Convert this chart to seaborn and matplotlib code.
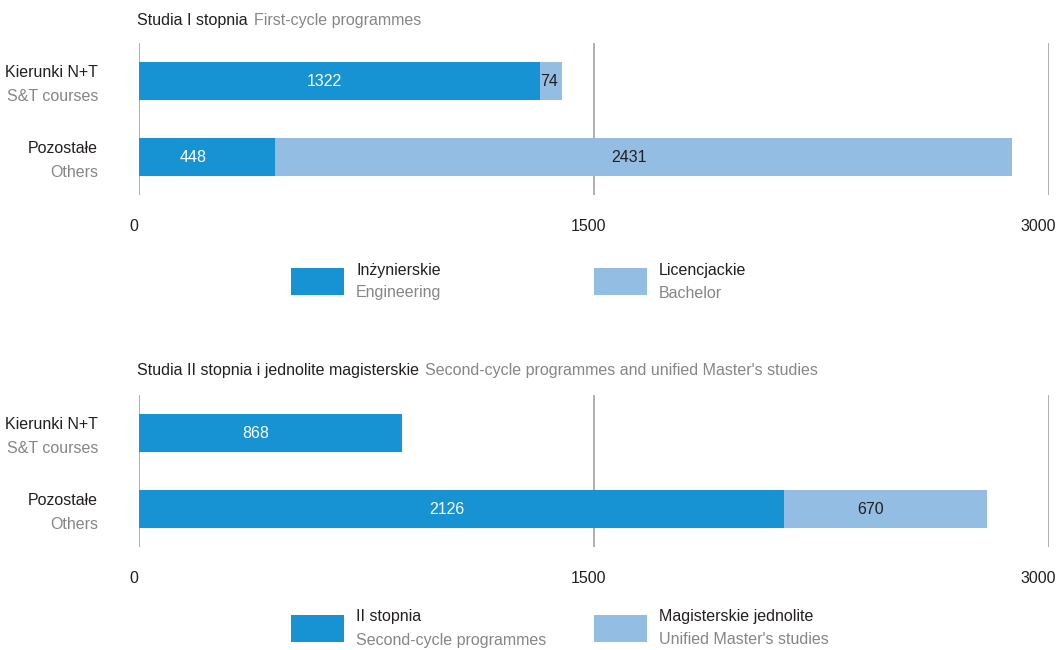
import matplotlib
matplotlib.use("Agg")
import matplotlib.pyplot as plt
import matplotlib.transforms as mtransforms
from matplotlib.patches import Rectangle
import seaborn as sns
import pandas as pd

# data
categories_pl = ["Kierunki N+T", "Pozostałe"]
categories_en = ["S&T courses", "Others"]

first_engineering = [1322, 448]
first_bachelor = [74, 2431]

second_cycle = [868, 2126]
unified_master = [0, 670]

x_ticks = [0, 1500, 3000]

DARK = "#1793d3"
LIGHT = "#93bde2"
TXT = "#231f20"
GREY = "#868686"
GRID = "#a8a8a8"

W, H = 1059, 650
FS = 11.5

sns.set_theme(style="white")
plt.rcParams["font.family"] = ["Liberation Sans", "DejaVu Sans"]
plt.rcParams["font.size"] = FS


def fx(px):
    return px / W


def fy(py):
    return 1 - py / H


def draw_panel(ax, first, second):
    df = pd.DataFrame({
        "cat": categories_pl,
        "first": first,
        "total": [a + b for a, b in zip(first, second)],
    })
    sns.barplot(data=df, x="total", y="cat", color=LIGHT, width=0.5,
                saturation=1, orient="h", linewidth=0, ax=ax)
    sns.barplot(data=df, x="first", y="cat", color=DARK, width=0.5,
                saturation=1, orient="h", linewidth=0, ax=ax)
    ax.set_xlim(0, 3000)
    ax.set_ylim(1.5, -0.5)
    ax.set_xticks(x_ticks)
    ax.set_xticklabels([str(t) for t in x_ticks])
    ax.tick_params(axis="x", length=0, pad=17, labelsize=FS, labelcolor=TXT)
    ax.set_yticks([])
    ax.set_xlabel("")
    ax.set_ylabel("")
    for s in ax.spines.values():
        s.set_visible(False)
    ax.set_axisbelow(True)
    ax.xaxis.grid(True, color=GRID, linewidth=1.3)
    ax.yaxis.grid(False)
    # tick labels sit a little left of their gridline, last one right-aligned
    labels = ax.get_xticklabels()
    for k, lbl in enumerate(labels):
        if k == len(labels) - 1:
            lbl.set_horizontalalignment("right")
            dx = 7
        else:
            dx = -5
        off = mtransforms.ScaledTranslation(dx / 100, 0,
                                            ax.figure.dpi_scale_trans)
        lbl.set_transform(lbl.get_transform() + off)

    # category labels (two languages)
    trans = mtransforms.blended_transform_factory(ax.transAxes, ax.transData)
    for i, (pl, en) in enumerate(zip(categories_pl, categories_en)):
        ax.text(-0.045, i - 0.11, pl, transform=trans, ha="right",
                va="center", color=TXT, fontsize=FS)
        ax.text(-0.045, i + 0.21, en, transform=trans, ha="right",
                va="center", color=GREY, fontsize=FS)

    # value labels
    px_per_unit = ax.get_window_extent().width / 3000
    for i in range(len(categories_pl)):
        segs = [(0, first[i], "white"), (first[i], second[i], TXT)]
        for start, val, col in segs:
            if val <= 0:
                continue
            shift = -min(15, 0.1 * val * px_per_unit)
            ax.annotate(str(val), xy=(start + val / 2, i),
                        xytext=(shift, 0), textcoords="offset pixels",
                        ha="center", va="center", color=col, fontsize=FS)


def title(fig, y, main, sub):
    t = fig.text(fx(137), fy(y), main, ha="left", va="center",
                 color=TXT, fontsize=FS)
    plt.annotate(sub, xy=(1, 0.5), xycoords=t, xytext=(6, 0),
                 textcoords="offset pixels", ha="left", va="center",
                 color=GREY, fontsize=FS)


def legend(fig, y_mid, items):
    for x0, col, pl, en in items:
        fig.add_artist(Rectangle((fx(x0), fy(y_mid + 13.5)), fx(53), 27 / H,
                                 transform=fig.transFigure, color=col, lw=0))
        fig.text(fx(x0 + 65), fy(y_mid - 11), pl, ha="left", va="center",
                 color=TXT, fontsize=FS)
        fig.text(fx(x0 + 65), fy(y_mid + 12), en, ha="left", va="center",
                 color=GREY, fontsize=FS)


fig = plt.figure(figsize=(W / 100, H / 100), dpi=100)
ax1 = fig.add_axes([fx(139), fy(195), fx(910), 152 / H])
ax2 = fig.add_axes([fx(139), fy(547), fx(910), 152 / H])

draw_panel(ax1, first_engineering, first_bachelor)
draw_panel(ax2, second_cycle, unified_master)

title(fig, 20, "Studia I stopnia", "First-cycle programmes")
title(fig, 370, "Studia II stopnia i jednolite magisterskie",
      "Second-cycle programmes and unified Master's studies")

legend(fig, 281, [(291, DARK, "Inżynierskie", "Engineering"),
                  (594, LIGHT, "Licencjackie", "Bachelor")])
legend(fig, 628, [(291, DARK, "II stopnia", "Second-cycle programmes"),
                  (594, LIGHT, "Magisterskie jednolite",
                   "Unified Master's studies")])

fig.savefig("out.png", dpi=100, facecolor="white")
